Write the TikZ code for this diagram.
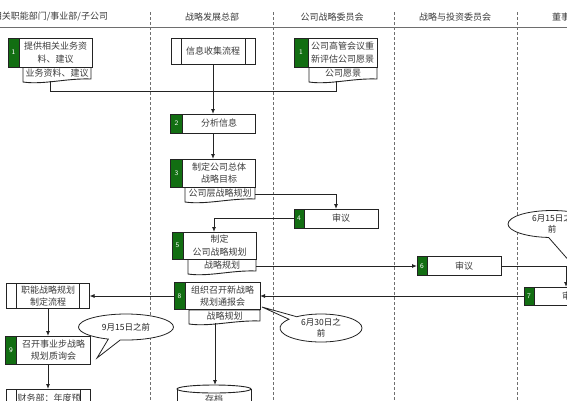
\documentclass[tikz,border=0pt]{standalone}
\usepackage{fontspec}
\newfontfamily\cjk{Noto Sans CJK SC}
\usetikzlibrary{arrows.meta,calc,shapes.geometric,shapes.callouts}
\definecolor{boxgreen}{RGB}{18,110,18}
\definecolor{linec}{RGB}{35,35,35}
\definecolor{txtc}{RGB}{60,60,60}
\definecolor{lanec}{RGB}{110,110,110}
\newcommand\stepnode[8]{%
  \node[boxst, minimum width=#5pt, minimum height=#6pt] (#1) at (#3,#4) {};
  \filldraw[fill=boxgreen, draw=linec, line width=0.9pt] (#1.north west) rectangle ([xshift=#7pt]#1.south west);
  \node[numst] (#1n) at ([xshift={0.5*#7pt}]#1.west) {#2};
  \node[align=center] (#1t) at ([xshift={0.5*#7pt}]#1.center) {#8};
}
\newcommand\predef[7]{%
  \node[boxst, minimum width=#4pt, minimum height=#5pt] (#1) at (#2,#3) {#6};
  \draw[conn] ([xshift=#7pt]#1.north west) -- ([xshift=#7pt]#1.south west)
              ([xshift=-#7pt]#1.north east) -- ([xshift=-#7pt]#1.south east);
}
\newcommand\docnode[6]{%
  \node[minimum width=#4pt, minimum height=#5pt] (#1) at (#2,#3) {};
  \draw[conn, fill=white] (#1.north west) -- (#1.north east) -- ([yshift=2pt]#1.south east)
    .. controls ($(#1.south east)!0.35!(#1.south west)+(0,-3)$) and ($(#1.south east)!0.7!(#1.south west)+(0,4)$) .. ([yshift=-1pt]#1.south west) -- cycle;
  \node (#1t) at ([yshift=0.5pt]#1.center) {#6};
}
\begin{document}
\begin{tikzpicture}[x=1pt,y=-1pt,
  every node/.style={inner sep=0pt, outer sep=0pt, text=txtc, font=\cjk\fontsize{9}{12.5}\selectfont},
  boxst/.style={draw=linec, fill=white, line width=0.9pt, align=center},
  numst/.style={text=white, font=\sffamily\fontsize{7}{7}\selectfont},
  conn/.style={draw=linec, line width=0.9pt},
  arr/.style={conn, -{Latex[length=5pt,width=4pt]}},
  lane/.style={draw=lanec, line width=0.8pt, dash pattern=on 3pt off 2pt},
  bubble/.style={ellipse callout, draw=linec, fill=white, line width=0.8pt, align=center, text=linec, font=\cjk\fontsize{8.5}{11}\selectfont}
]
\useasboundingbox (0,0) rectangle (567,400);
\clip (0,0) rectangle (567,400);
\fill[white] (0,0) rectangle (567,400);
% lanes
\draw[lanec, line width=0.9pt] (0,27) -- (567,27);
\foreach \x in {150,273,394,517} \draw[lane] (\x,12) -- (\x,400);
\node[anchor=east] (h1) at (108,17) {相关职能部门/事业部/子公司};
\node (h2) at (212,17) {战略发展总部};
\node (h3) at (332,17) {公司战略委员会};
\node (h4) at (455,17) {战略与投资委员会};
\node[anchor=west] (h5) at (552,17) {董事会};
% documents
\docnode{d1}{57}{74}{68}{14}{业务资料、建议}
\docnode{dc}{343}{74}{68}{14}{公司愿景}
\docnode{d3}{220}{194}{70}{14}{公司层战略规划}
\docnode{d5}{222}{266}{68}{14}{战略规划}
\docnode{d8}{224.5}{316.5}{71}{13}{战略规划}
% steps
\stepnode{n1}{1}{50}{52.5}{84}{29}{11}{提供相关业务资\\料、建议}
\stepnode{c1}{1}{335.5}{52.5}{83}{29}{14}{公司高管会议重\\新评估公司愿景}
\stepnode{s2}{2}{213}{123.5}{85}{19}{12}{分析信息}
\stepnode{s3}{3}{213}{173}{85}{28}{12}{制定公司总体\\战略目标}
\stepnode{s4}{4}{336}{218.5}{84}{19}{10}{审议}
\stepnode{s5}{5}{214}{245.5}{84}{27}{11}{制定\\公司战略规划}
\stepnode{s6}{6}{459}{266}{84}{19}{10}{审议}
\stepnode{s7}{7}{566}{296}{84}{18}{10}{审批}
\stepnode{s8}{8}{217}{296}{86}{27}{11}{组织召开新战略\\规划通报会}
\stepnode{s9}{9}{48}{350}{85}{28}{11}{召开事业步战略\\规划质询会}
\predef{info}{213}{51}{84}{26}{信息收集流程}{10}
\predef{func}{48}{296}{83}{25}{职能战略规划\\制定流程}{10}
\predef{fin}{48}{410}{84}{42}{}{10}
\node (fint) at (49,398) {财务部：年度预};
% archive cylinder
\draw[conn, fill=white] (177,389) -- (177,420) -- (251,420) -- (251,389);
\draw[conn, fill=white] (214,389) ellipse (37 and 4);
\node (arch) at (214,399) {存档};
\coordinate (archtop) at (215,385);
% connectors
\coordinate (j1) at (213,91);
\draw[conn] ($(d1.south west)!0.4!(d1.south east)$) |- (j1);
\draw[conn] ($(dc.south west)!0.41!(dc.south east)$) |- (j1);
\draw[arr] (info.south) -- (s2.north);
\draw[arr] (s2.south) -- (s3.north);
\draw[arr] (d3.east) -| (s4.north);
\draw[arr] (s4.west) -| (s5.north);
\draw[arr] (d5.east) -- (d5.east -| s6.west);
\draw[arr] (s6.east) -| (s7.north);
\draw[arr] (s7.west) -- (s7.west -| s8.east);
\draw[arr] (s8.west) -- (s8.west -| func.east);
\draw[arr] (func.south) -- (s9.north);
\draw[arr] (s9.south) -- (fin.north);
\draw[arr] (archtop |- d8.south) -- (archtop);
% callouts
\node[bubble, minimum width=95pt, minimum height=26pt, callout absolute pointer={(97,358)}] (cb1) at (126,327) {9月15日之前};
\node[bubble, minimum width=82pt, minimum height=28pt, callout absolute pointer={(262,307)}] (cb2) at (321,328) {6月30日之\\前};
\node[bubble, minimum width=88pt, minimum height=27pt, callout pointer arc=30, callout absolute pointer={(586,280)}] (cb3) at (552,224) {6月15日之\\前};
\end{tikzpicture}
\end{document}
